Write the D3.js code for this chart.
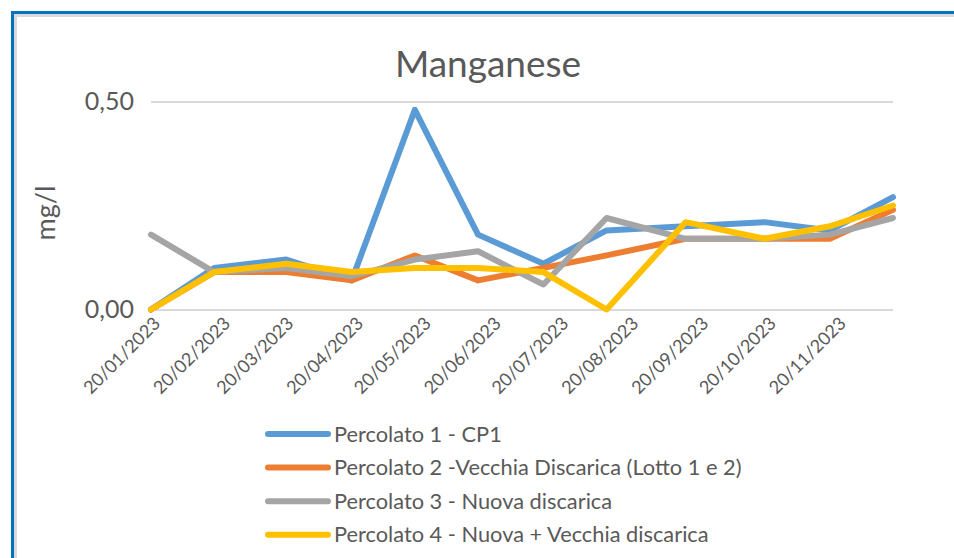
<!DOCTYPE html>
<html><head><meta charset="utf-8">
<script src="https://cdn.jsdelivr.net/npm/d3@7"></script>
<style>
html,body{margin:0;padding:0;background:#fff;}
svg{display:block;}
text{font-family:Lato,"Open Sans",sans-serif;fill:#595959;}
</style></head>
<body>
<svg id="chart" width="954" height="558"></svg>
<script>
const title = "Manganese";
const yTitle = "mg/l";
const sampleDates = ["2023-01-20","2023-02-17","2023-03-21","2023-04-19","2023-05-17","2023-06-14","2023-07-13","2023-08-10","2023-09-14","2023-10-19","2023-11-17","2023-12-15"];
const tickDates = ["2023-01-20","2023-02-20","2023-03-20","2023-04-20","2023-05-20","2023-06-20","2023-07-20","2023-08-20","2023-09-20","2023-10-20","2023-11-20"];
const yTicks = [0, 0.5];
const seriesNames = ["Percolato 1 - CP1","Percolato 2 -Vecchia Discarica (Lotto 1 e 2)","Percolato 3 - Nuova discarica","Percolato 4 - Nuova + Vecchia discarica"];
const seriesColors = ["#5B9BD5","#ED7D31","#A5A5A5","#FFC000"];
const perc1 = [0, 0.10, 0.12, 0.07, 0.48, 0.18, 0.11, 0.19, 0.20, 0.21, 0.19, 0.27];
const perc2 = [0, 0.09, 0.09, 0.07, 0.13, 0.07, 0.10, 0.13, 0.17, 0.17, 0.17, 0.24];
const perc3 = [0.18, 0.09, 0.10, 0.08, 0.12, 0.14, 0.06, 0.22, 0.17, 0.17, 0.18, 0.22];
const perc4 = [0, 0.09, 0.11, 0.09, 0.10, 0.10, 0.09, 0.00, 0.21, 0.17, 0.20, 0.25];
const seriesValues = [perc1, perc2, perc3, perc4];

(function () {
const parse = d3.utcParse("%Y-%m-%d");
const dates = sampleDates.map(parse);
const ticks = tickDates.map(parse);
const fmt = d3.utcFormat("%d/%m/%Y");
const yFmt = d => d3.format(".2f")(d).replace(".", ",");

const svg = d3.select("#chart");
const W = 954, H = 558;
const pLeft = 151, pRight = 893, pTop = 101.5, pBottom = 309.5;

// frame
svg.append("line").attr("x1", 14).attr("x2", W).attr("y1", 15.5).attr("y2", 15.5).attr("stroke", "#D9D9D9").attr("stroke-width", 3);
svg.append("line").attr("x1", 15.5).attr("x2", 15.5).attr("y1", 14).attr("y2", H).attr("stroke", "#D9D9D9").attr("stroke-width", 3);
svg.append("line").attr("x1", 11).attr("x2", W).attr("y1", 12.5).attr("y2", 12.5).attr("stroke", "#0070C0").attr("stroke-width", 3);
svg.append("line").attr("x1", 12.5).attr("x2", 12.5).attr("y1", 11).attr("y2", H).attr("stroke", "#0070C0").attr("stroke-width", 3);

const x = d3.scaleUtc().domain([dates[0], dates[dates.length - 1]]).range([pLeft, pRight]);
const y = d3.scaleLinear().domain([0, 0.5]).range([pBottom, pTop]);

// grid + y labels
const yAxis = d3.axisLeft(y).tickValues(yTicks).tickSize(-(pRight - pLeft)).tickFormat(yFmt).tickPadding(17);
const gy = svg.append("g").attr("transform", `translate(${pLeft},0)`).call(yAxis);
gy.select(".domain").remove();
gy.selectAll(".tick line").attr("stroke", "#D9D9D9").attr("stroke-width", 2);
gy.selectAll(".tick text").attr("font-size", 25).attr("fill", "#595959").attr("font-family", "Lato");

// x labels
const xAxis = d3.axisBottom(x).tickValues(ticks).tickSize(0).tickFormat(fmt);
const gx = svg.append("g").attr("transform", `translate(0,${pBottom})`).call(xAxis);
gx.select(".domain").remove();
gx.selectAll(".tick text")
  .attr("font-size", 18).attr("fill", "#595959").attr("font-family", "Lato")
  .attr("text-anchor", "end").attr("dy", null).attr("y", 0)
  .attr("transform", "translate(10,15) rotate(-45)");

// lines
const line = d3.line().x((d, i) => x(dates[i])).y(d => y(d));
seriesValues.forEach((vals, k) => {
  svg.append("path").datum(vals).attr("d", line)
    .attr("fill", "none").attr("stroke", seriesColors[k]).attr("stroke-width", 6)
    .attr("stroke-linejoin", "round").attr("stroke-linecap", "round");
});

// title
svg.append("text").attr("x", 488).attr("y", 77).attr("text-anchor", "middle")
  .attr("font-size", 37).text(title);

// y title
svg.append("text").attr("transform", "translate(55,213) rotate(-90)").attr("text-anchor", "middle")
  .attr("font-size", 27).text(yTitle);

// legend
const lg = svg.append("g");
seriesNames.forEach((n, k) => {
  const cy = 434 + k * 33.6;
  lg.append("line").attr("x1", 268).attr("x2", 328).attr("y1", cy).attr("y2", cy)
    .attr("stroke", seriesColors[k]).attr("stroke-width", 6).attr("stroke-linecap", "round");
  lg.append("text").attr("x", 334).attr("y", cy).attr("dy", "0.35em").attr("font-size", 21.8).text(n);
});
})();
</script>
</body></html>
